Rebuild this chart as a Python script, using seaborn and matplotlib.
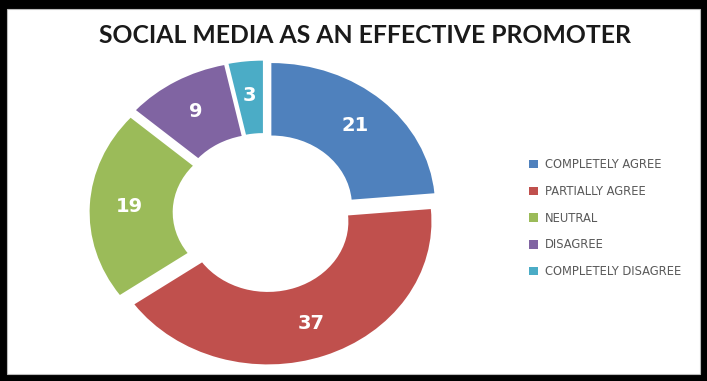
import matplotlib
matplotlib.use("Agg")
import matplotlib.pyplot as plt
import seaborn as sns
from matplotlib.patches import Rectangle

categories = ["COMPLETELY AGREE", "PARTIALLY AGREE", "NEUTRAL", "DISAGREE", "COMPLETELY DISAGREE"]
values = [21, 37, 19, 9, 3]
colors = ["#4F81BD", "#C0504D", "#9BBB59", "#8064A2", "#4BACC6"]
title = "SOCIAL MEDIA AS AN EFFECTIVE PROMOTER"

sns.set_theme(style="white")
plt.rcParams["font.family"] = ["DejaVu Sans"]

fig = plt.figure(figsize=(7.07, 3.81), dpi=100, facecolor="black")
fig.patches.append(Rectangle((7/707, 7/381), 693/707, 365/381, transform=fig.transFigure,
                             facecolor="white", edgecolor="#BBBBBB", linewidth=0.8, zorder=-5))

ax = fig.add_axes([0.115, 0.023, 0.517, 0.837])
ax.set_zorder(2)
ax.set_facecolor("none")
wedges, texts, autotexts = ax.pie(
    values, colors=colors, startangle=90, counterclock=False,
    explode=[0.065] * len(values), radius=0.985,
    wedgeprops=dict(width=0.5, edgecolor="white", linewidth=0),
    autopct=lambda p: f"{round(p * sum(values) / 100):d}", pctdistance=0.76,
    textprops=dict(color="white", fontsize=14, fontweight="bold"),
)
ax.set_aspect("auto")
ax.set_xlim(-1.1, 1.1)
ax.set_ylim(-1.1, 1.1)
ax.axis("off")

fig.text(0.516, 0.908, title, ha="center", va="center", fontsize=17.8, fontweight="bold",
         family=["Lato", "DejaVu Sans"], color="#1a1a1a", zorder=3)

leg = fig.legend(wedges, categories, loc="upper left", bbox_to_anchor=(0.742, 0.597),
                 frameon=False, fontsize=8.3, labelspacing=1.19, handlelength=0.75,
                 handleheight=0.75, handletextpad=0.6, borderaxespad=0)
leg.set_zorder(3)
for t in leg.get_texts():
    t.set_color("#595959")

fig.savefig("out.png", dpi=100, facecolor="black")
